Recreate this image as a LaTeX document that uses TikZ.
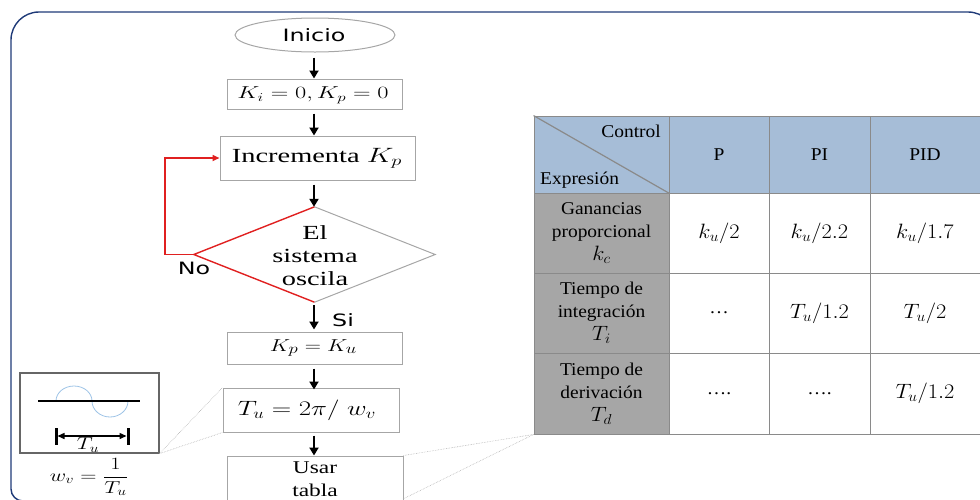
\documentclass[tikz,border=0pt]{standalone}
\usepackage{fontspec}
\usepackage{graphicx}
\setmainfont{Liberation Serif}
\newfontfamily\sansf{DejaVu Sans}
\usetikzlibrary{shapes.geometric,arrows.meta}
\newcommand{\hs}[1]{\scalebox{1.3}[1]{#1}}
\newcommand{\hsb}[1]{\scalebox{1.4}[1]{#1}}
\newcommand{\ts}[1]{\scalebox{1.08}[1]{#1}}
\newcommand{\tm}[1]{\scalebox{1.08}[1]{\fontsize{20}{23}\selectfont#1}}
\definecolor{framec}{HTML}{1F3A78}
\definecolor{boxgray}{HTML}{A6A6A6}
\definecolor{redc}{HTML}{E02020}
\definecolor{hdr}{HTML}{A6BDD7}
\definecolor{colgray}{HTML}{A6A6A6}
\definecolor{gridc}{HTML}{8A8A8A}
\definecolor{wave}{HTML}{9DC3E6}
\begin{document}
\begin{tikzpicture}[x=1pt,y=-1pt,
  fbox/.style={draw=boxgray, line width=1pt, inner sep=0pt},
  ftext/.style={font=\fontsize{18}{23}\selectfont, align=center, inner sep=0pt},
  stext/.style={font=\sansf\fontsize{17}{20}\selectfont, inner sep=0pt},
  arr/.style={line width=2.3pt, -{Triangle[length=8pt,width=9pt]}},
  cell/.style={draw=gridc, line width=0.9pt, inner sep=0pt, align=center, font=\fontsize{18}{23}\selectfont},
  ttext/.style={font=\fontsize{18}{23}\selectfont, align=center, inner sep=0pt},
  faint/.style={draw=gray!60, line width=0.6pt, densely dotted}]
\useasboundingbox (0,0) rectangle (980,499);
% frame
\draw[framec, line width=1.4pt] (996,503) -- (996,40) arc[start angle=0, end angle=90, radius=28pt]
  -- (39,12) arc[start angle=90, end angle=180, radius=28pt]
  -- (11,489) arc[start angle=180, end angle=270, radius=12pt] -- (996,501);
% flowchart
\coordinate (ax) at (314,0);
\node[fbox, ellipse, minimum width=160pt, minimum height=34pt] (ini) at (315,35) {};
\node[stext] (init) at (314,35) {\hsb{Inicio}};
\node[fbox, minimum width=175pt, minimum height=30pt] (k0) at (314.5,94) {};
\node[ftext, font=\fontsize{18}{23}\selectfont] (k0t) at (313,95) {\scalebox{1.41}[1]{$K_i = 0, K_p = 0$}};
\node[fbox, minimum width=195pt, minimum height=44pt] (inc) at (317.5,158) {};
\node[ftext, font=\fontsize{20}{23}\selectfont] (inct) at (317,158) {\scalebox{1.42}[1]{Incrementa $K_p$}};
\node[diamond, draw=none, minimum width=241pt, minimum height=95pt, inner sep=0pt] (d) at (314.5,254.5) {};
\draw[redc, line width=1.4pt] (d.north) -- (d.west) -- (d.south);
\draw[boxgray, line width=1pt] (d.north) -- (d.east) -- (d.south);
\node[ftext, font=\fontsize{20}{23}\selectfont] (dt) at (315,256) {\scalebox{1.42}[1]{El}\\\scalebox{1.42}[1]{sistema}\\\scalebox{1.42}[1]{oscila}};
\node[fbox, minimum width=175pt, minimum height=32pt] (kp) at (314.5,348) {};
\node[ftext, font=\fontsize{19}{23}\selectfont] (kpt) at (313.5,348) {\hs{$K_p = K_u$}};
\node[fbox, minimum width=176pt, minimum height=44pt] (tu) at (311,410) {};
\node[ftext, font=\fontsize{20}{23}\selectfont] (tut) at (307,410) {\hs{$T_u = 2\pi/\; w_v$}};
\node[fbox, minimum width=176pt, minimum height=60pt] (usar) at (315,486) {};
\node[ftext] (usart) at (315,479.5) {\hs{Usar}\\\hs{tabla}};
% arrows
\draw[arr, shorten <=5pt] (ini.south -| ax) -- (k0.north -| ax);
\draw[arr, shorten <=4pt] (k0.south -| ax) -- (inc.north -| ax);
\draw[arr, shorten <=4pt] (inc.south -| ax) -- (d.north -| ax);
\draw[arr, shorten <=3pt, shorten >=2pt] (d.south -| ax) -- (kp.north -| ax);
\draw[arr, shorten <=4pt] (kp.south -| ax) -- ([yshift=-2pt]tu.north -| ax);
\draw[arr, shorten <=3pt] (tu.south -| ax) -- (usar.north -| ax);
\draw[redc, line width=1.6pt, -{Triangle[length=7pt,width=6pt]}] (d.west) -- ++(-29,0) |- (inc.west);
\node[stext] (no) at (194,268) {\hsb{No}};
\node[stext] (si) at (343,320) {\hsb{Si}};
% inset
\node[draw=gray!80!black, line width=1.1pt, minimum width=139pt, minimum height=80pt, inner sep=0pt] (inset) at (89.5,413) {};
\coordinate (l1) at (38,401);
\coordinate (l2) at (140,401);
\draw[wave, line width=0.8pt] (56,401) arc[start angle=180, end angle=0, x radius=18pt, y radius=15pt]
  arc[start angle=180, end angle=360, x radius=18pt, y radius=16pt];
\draw[line width=2.4pt] (l1) -- (l2);
\coordinate (b1) at (56,436);
\coordinate (b2) at (128,436);
\draw[line width=3pt] (56,428) -- (56,445);
\draw[line width=3pt] (128,428) -- (128,445);
\draw[line width=1.4pt, {Triangle[length=7pt,width=6pt]}-{Triangle[length=7pt,width=6pt]}, shorten <=1.5pt, shorten >=1.5pt] (b1) -- (b2);
\node[ftext] (tul) at (88,445) {\hs{$T_u$}};
\node[ftext] (wv) at (89,477) {\hs{$w_v = {\displaystyle\frac{1}{T_u}}$}};
\draw[faint] (inset.south east) -- (tu.north west);
\draw[faint] (inset.south east) -- (tu.south west);
% table
\node[cell, fill=hdr, minimum width=135pt, minimum height=77pt] (h0) at (601.5,154.5) {};
\node[cell, fill=hdr, minimum width=100pt, minimum height=77pt] (h1) at (719,154.5) {\ts{P}};
\node[cell, fill=hdr, minimum width=101pt, minimum height=77pt] (h2) at (819.5,154.5) {\ts{PI}};
\node[cell, fill=hdr, minimum width=110pt, minimum height=77pt] (h3) at (925,154.5) {\ts{PID}};
\draw[gridc, line width=1.2pt] (h0.north west) -- (h0.south east);
\node[ttext, anchor=east] (ctl) at (661,131) {\ts{Control}};
\node[ttext, anchor=west] (exp) at (540,180) {\ts{Expresión}};
% rows
\node[cell, fill=colgray, minimum width=135pt, minimum height=80pt] (r1) at (601.5,233) {\ts{Ganancias}\\\ts{proporcional}\\\tm{$k_c$}};
\node[cell, minimum width=100pt, minimum height=80pt] (c11) at (719,233) {\tm{$k_u/2$}};
\node[cell, minimum width=101pt, minimum height=80pt] (c12) at (819.5,233) {\tm{$k_u/2.2$}};
\node[cell, minimum width=110pt, minimum height=80pt] (c13) at (925,233) {\tm{$k_u/1.7$}};
\node[cell, fill=colgray, minimum width=135pt, minimum height=80pt] (r2) at (601.5,313) {\ts{Tiempo de}\\\ts{integración}\\\tm{$T_i$}};
\node[cell, minimum width=100pt, minimum height=80pt] (c21) at (719,313) {\ts{…}};
\node[cell, minimum width=101pt, minimum height=80pt] (c22) at (819.5,313) {\tm{$T_u/1.2$}};
\node[cell, minimum width=110pt, minimum height=80pt] (c23) at (925,313) {\tm{$T_u/2$}};
\node[cell, fill=colgray, minimum width=135pt, minimum height=81pt] (r3) at (601.5,393.5) {\ts{Tiempo de}\\\ts{derivación}\\\tm{$T_d$}};
\node[cell, minimum width=100pt, minimum height=81pt] (c31) at (719,393.5) {\ts{….}};
\node[cell, minimum width=101pt, minimum height=81pt] (c32) at (819.5,393.5) {\ts{….}};
\node[cell, minimum width=110pt, minimum height=81pt] (c33) at (925,393.5) {\tm{$T_u/1.2$}};
\coordinate (ub) at (403,499);
\draw[faint] (usar.north east) -- (r3.south west);
\draw[faint] (ub) -- (r3.south west);
\end{tikzpicture}
\end{document}
